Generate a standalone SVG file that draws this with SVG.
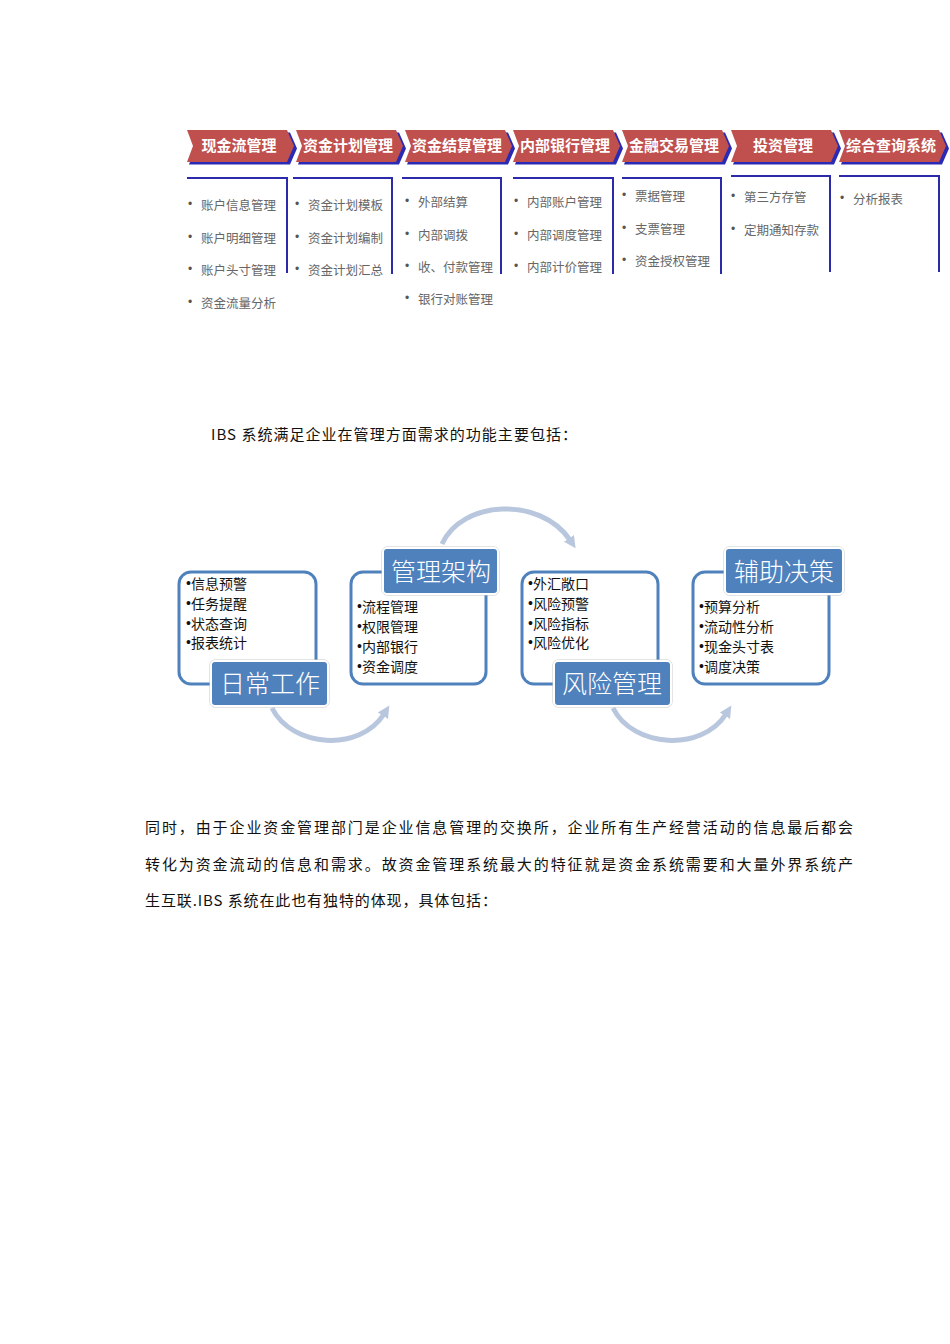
<svg xmlns="http://www.w3.org/2000/svg" width="950" height="1344" viewBox="0 0 950 1344">
<style>
.chev{fill:#c0504d}
.chevs{fill:#2a2ab4}
.ct{font-family:"Noto Sans CJK SC",sans-serif;font-size:15px;font-weight:bold;fill:#fff;text-anchor:middle;dominant-baseline:central}
.bx{fill:none;stroke:#2a2aaa;stroke-width:2}
.it{font-family:"Noto Sans CJK SC",sans-serif;font-size:12.5px;fill:#666;dominant-baseline:central}
.bu{font-family:"Liberation Sans",sans-serif;font-size:12px;fill:#555;dominant-baseline:central}
.para{font-family:"Noto Sans CJK SC",sans-serif;font-size:15px;fill:#111;dominant-baseline:central}
.rb{fill:#fff;stroke:#4f81bd;stroke-width:3}
.lb{fill:#4f81bd;stroke:#fff;stroke-width:2}
.lbo{fill:none;stroke:#c8c8c8;stroke-width:1}
.lt{font-family:"Noto Sans CJK SC",sans-serif;font-size:25px;font-weight:300;fill:#fff;text-anchor:middle;dominant-baseline:central}
.mt{font-family:"Noto Sans CJK SC",sans-serif;font-size:14px;fill:#111;dominant-baseline:central}
.mb{font-family:"Liberation Sans",sans-serif}
.arc{fill:none;stroke:#b9c7de;stroke-width:5;stroke-linecap:butt}
</style>
<defs>
<marker id="ah" markerUnits="userSpaceOnUse" markerWidth="16" markerHeight="16" refX="2" refY="7" orient="auto">
<path d="M0 1 L12 7 L0 13 Z" fill="#b9c7de"/>
</marker>
</defs>

<g id="chevrons">
<g id="chev1"><path class="chevs" d="M189 132.5 H290 L297 148.5 L290 164.5 H189 L195 148.5 Z"/><path class="chev" d="M187 130 H287 L294 146 L287 162 H187 L193 146 Z"/><text class="ct" x="239" y="144.5">现金流管理</text></g>
<g id="chev2"><path class="chevs" d="M298 132.5 H399 L406 148.5 L399 164.5 H298 L304 148.5 Z"/><path class="chev" d="M296 130 H396 L403 146 L396 162 H296 L302 146 Z"/><text class="ct" x="348" y="144.5">资金计划管理</text></g>
<g id="chev3"><path class="chevs" d="M407 132.5 H508 L515 148.5 L508 164.5 H407 L413 148.5 Z"/><path class="chev" d="M405 130 H505 L512 146 L505 162 H405 L411 146 Z"/><text class="ct" x="457" y="144.5">资金结算管理</text></g>
<g id="chev4"><path class="chevs" d="M515 132.5 H616 L623 148.5 L616 164.5 H515 L521 148.5 Z"/><path class="chev" d="M513 130 H613 L620 146 L613 162 H513 L519 146 Z"/><text class="ct" x="565" y="144.5">内部银行管理</text></g>
<g id="chev5"><path class="chevs" d="M624 132.5 H725 L732 148.5 L725 164.5 H624 L630 148.5 Z"/><path class="chev" d="M622 130 H722 L729 146 L722 162 H622 L628 146 Z"/><text class="ct" x="674" y="144.5">金融交易管理</text></g>
<g id="chev6"><path class="chevs" d="M733 132.5 H834 L841 148.5 L834 164.5 H733 L739 148.5 Z"/><path class="chev" d="M731 130 H831 L838 146 L831 162 H731 L737 146 Z"/><text class="ct" x="783" y="144.5">投资管理</text></g>
<g id="chev7"><path class="chevs" d="M841 132.5 H942 L949 148.5 L942 164.5 H841 L847 148.5 Z"/><path class="chev" d="M839 130 H939 L946 146 L939 162 H839 L845 146 Z"/><text class="ct" x="891" y="144.5">综合查询系统</text></g>
</g>

<g id="lists">
<g id="list1"><path class="bx" d="M187 178 H287 V273"/>
<text class="bu" x="188" y="204">•</text><text class="it" x="201" y="204">账户信息管理</text>
<text class="bu" x="188" y="237">•</text><text class="it" x="201" y="237">账户明细管理</text>
<text class="bu" x="188" y="269">•</text><text class="it" x="201" y="269">账户头寸管理</text>
<text class="bu" x="188" y="302">•</text><text class="it" x="201" y="302">资金流量分析</text></g>
<g id="list2"><path class="bx" d="M293 178 H392 V274"/>
<text class="bu" x="295" y="204">•</text><text class="it" x="308" y="204">资金计划模板</text>
<text class="bu" x="295" y="237">•</text><text class="it" x="308" y="237">资金计划编制</text>
<text class="bu" x="295" y="269">•</text><text class="it" x="308" y="269">资金计划汇总</text></g>
<g id="list3"><path class="bx" d="M402 178 H501 V274"/>
<text class="bu" x="405" y="201">•</text><text class="it" x="418" y="201">外部结算</text>
<text class="bu" x="405" y="234">•</text><text class="it" x="418" y="234">内部调拨</text>
<text class="bu" x="405" y="266">•</text><text class="it" x="418" y="266">收、付款管理</text>
<text class="bu" x="405" y="298">•</text><text class="it" x="418" y="298">银行对账管理</text></g>
<g id="list4"><path class="bx" d="M513 178 H613 V274"/>
<text class="bu" x="514" y="201">•</text><text class="it" x="527" y="201">内部账户管理</text>
<text class="bu" x="514" y="234">•</text><text class="it" x="527" y="234">内部调度管理</text>
<text class="bu" x="514" y="266">•</text><text class="it" x="527" y="266">内部计价管理</text></g>
<g id="list5"><path class="bx" d="M622 178 H721 V274"/>
<text class="bu" x="622" y="195">•</text><text class="it" x="635" y="195">票据管理</text>
<text class="bu" x="622" y="228">•</text><text class="it" x="635" y="228">支票管理</text>
<text class="bu" x="622" y="260">•</text><text class="it" x="635" y="260">资金授权管理</text></g>
<g id="list6"><path class="bx" d="M731 176 H830 V272"/>
<text class="bu" x="731" y="196">•</text><text class="it" x="744" y="196">第三方存管</text>
<text class="bu" x="731" y="229">•</text><text class="it" x="744" y="229">定期通知存款</text></g>
<g id="list7"><path class="bx" d="M839 176 H939 V272"/>
<text class="bu" x="840" y="198">•</text><text class="it" x="853" y="198">分析报表</text></g>
</g>

<text class="para" x="211" y="433" textLength="366" lengthAdjust="spacing">IBS 系统满足企业在管理方面需求的功能主要包括：</text>

<g id="connectors">
<path class="arc" d="M272 708 C292 748 360 752 384 714" marker-end="url(#ah)"/>
<path class="arc" d="M442 544 C462 500 540 496 570 540" marker-end="url(#ah)"/>
<path class="arc" d="M613 708 C633 748 702 752 726 714" marker-end="url(#ah)"/>
</g>

<g id="daily">
<rect class="rb" x="179" y="572" width="137" height="112" rx="12"/>
<text class="mt" x="186" y="583"><tspan class="mb">•</tspan>信息预警</text>
<text class="mt" x="186" y="603"><tspan class="mb">•</tspan>任务提醒</text>
<text class="mt" x="186" y="623"><tspan class="mb">•</tspan>状态查询</text>
<text class="mt" x="186" y="642"><tspan class="mb">•</tspan>报表统计</text>
<rect class="lbo" x="210" y="660" width="119" height="47" rx="5"/>
<rect class="lb" x="211" y="661" width="117" height="45" rx="4"/>
<text class="lt" x="270" y="681.5">日常工作</text>
</g>

<g id="arch">
<rect class="rb" x="351" y="572" width="135" height="112" rx="12"/>
<rect class="lbo" x="382" y="547" width="117" height="48" rx="5"/>
<rect class="lb" x="383" y="548" width="115" height="46" rx="4"/>
<text class="lt" x="441" y="569.5">管理架构</text>
<text class="mt" x="357" y="606"><tspan class="mb">•</tspan>流程管理</text>
<text class="mt" x="357" y="626"><tspan class="mb">•</tspan>权限管理</text>
<text class="mt" x="357" y="646"><tspan class="mb">•</tspan>内部银行</text>
<text class="mt" x="357" y="666"><tspan class="mb">•</tspan>资金调度</text>
</g>

<g id="risk">
<rect class="rb" x="522" y="572" width="136" height="112" rx="12"/>
<text class="mt" x="528" y="583"><tspan class="mb">•</tspan>外汇敞口</text>
<text class="mt" x="528" y="603"><tspan class="mb">•</tspan>风险预警</text>
<text class="mt" x="528" y="623"><tspan class="mb">•</tspan>风险指标</text>
<text class="mt" x="528" y="642"><tspan class="mb">•</tspan>风险优化</text>
<rect class="lbo" x="553" y="660" width="119" height="47" rx="5"/>
<rect class="lb" x="554" y="661" width="117" height="45" rx="4"/>
<text class="lt" x="612" y="681.5">风险管理</text>
</g>

<g id="decision">
<rect class="rb" x="693" y="572" width="136" height="112" rx="12"/>
<rect class="lbo" x="724" y="547" width="120" height="48" rx="5"/>
<rect class="lb" x="725" y="548" width="118" height="46" rx="4"/>
<text class="lt" x="784" y="569.5">辅助决策</text>
<text class="mt" x="699" y="606"><tspan class="mb">•</tspan>预算分析</text>
<text class="mt" x="699" y="626"><tspan class="mb">•</tspan>流动性分析</text>
<text class="mt" x="699" y="646"><tspan class="mb">•</tspan>现金头寸表</text>
<text class="mt" x="699" y="666"><tspan class="mb">•</tspan>调度决策</text>
</g>

<text class="para" x="145" y="826" textLength="708" lengthAdjust="spacing">同时，由于企业资金管理部门是企业信息管理的交换所，企业所有生产经营活动的信息最后都会</text>
<text class="para" x="145" y="863" textLength="708" lengthAdjust="spacing">转化为资金流动的信息和需求。故资金管理系统最大的特征就是资金系统需要和大量外界系统产</text>
<text class="para" x="145" y="899" textLength="352" lengthAdjust="spacing">生互联.IBS 系统在此也有独特的体现，具体包括：</text>
</svg>
